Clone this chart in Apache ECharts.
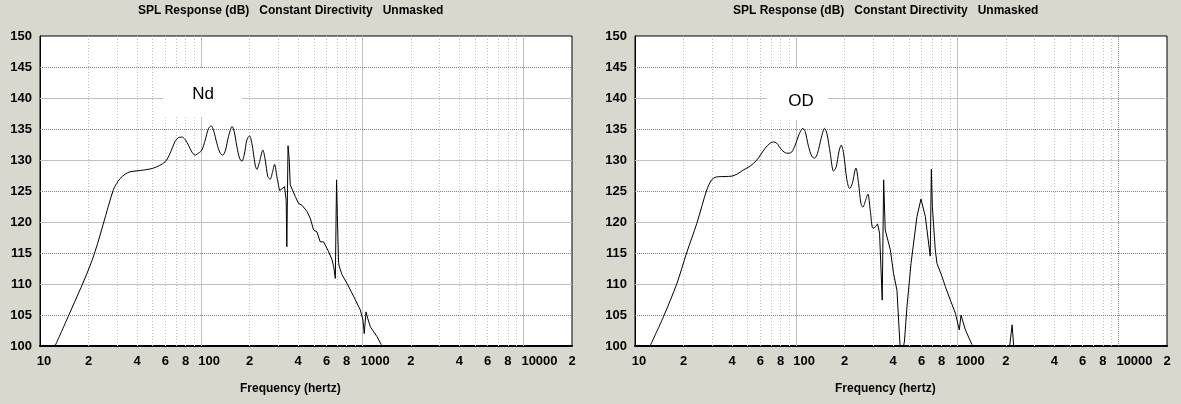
<!DOCTYPE html>
<html><head><meta charset="utf-8">
<script src="https://cdn.jsdelivr.net/npm/echarts@6/dist/echarts.min.js"></script>
<style>html,body{margin:0;padding:0;background:#d9d8cf}#c{width:1181px;height:404px}</style>
</head><body><div id="c"></div>
<script>
// ---- data ----
const ndFreq = [12.4,15.1,21.1,28.5,29.9,31.4,33.7,36.2,41.8,50.6,59.7,64.2,68.9,72.3,75.9,79.5,83.4,87.5,91.8,96.2,101.0,105.9,111.1,115.4,119.3,125.1,131.2,136.3,141.6,147.8,155.8,160.3,166.5,173.0,178.9,184.9,192.1,199.6,206.4,216.4,221.7,229.2,241.5,249.7,259.4,268.2,277.3,285.4,295.1,306.6,
  329,337,340,346,352,357,366,384,402,422,454,475,499,523,548,575,618,649,664,680,692,700,712,720,748,804,883,972,1009,1028,1054,1079,1121,1234,1312];
const ndDb   = [100,105,113.9,125.2,126.2,127.0,127.7,128.1,128.3,128.7,129.7,131.1,133.0,133.6,133.7,133.3,132.4,131.3,130.8,131.1,131.6,133.2,135.1,135.5,134.8,132.7,131.1,130.8,131.6,133.8,135.4,134.6,132.2,130.3,129.8,130.8,133.2,133.9,132.7,129.2,128.5,129.5,131.6,130.0,127.3,126.9,128.1,129.3,127.3,125.05,
  125.7,123.5,116.0,132.3,130.0,126.0,126.0,124.1,123.0,122.7,121.7,120.6,118.7,118.4,116.8,116.8,115.2,113.9,112.8,110.9,126.8,121.0,113.5,112.8,111.5,110.1,108.0,105.8,104.2,102.0,105.5,104.5,103.1,101.5,100.2];
const odFreq = [12.4,15.0,18.2,20.9,24.2,27.9,29.9,31.4,32.9,39.9,42.8,47.1,51.8,57.0,64.2,68.9,72.3,75.9,81.5,87.5,90.5,94.0,98.6,104.9,110.0,113.7,119.3,125.1,130.0,135.7,143.0,150.0,155.1,162.7,170.6,177.2,184.1,190.3,196.8,206.4,214.5,222.8,234.8,243.9,252.2,259.5,269.6,278.7,288.2,299.4,309.6,320.1,
  329.3,342,349,357,384,402,422,440,450,462,470,487,516,562,595,633,654,679,690,700,730,748,804,842,905,972,1029,1054,1122,1234,1700,2113,2187,2238];
const odDb   = [100,104.7,110.1,115.0,119.8,125.2,126.8,127.2,127.3,127.4,127.7,128.4,129.0,130.0,131.9,132.7,132.9,132.7,131.6,131.1,131.1,131.3,132.4,134.3,135.1,134.6,132.2,130.6,130.3,131.1,133.5,135.1,134.3,131.1,128.2,128.9,131.3,132.4,131.1,126.8,125.4,126.2,128.7,126.2,123.0,122.4,123.5,124.5,121.9,119.0,119.2,119.7,
  118.2,107.4,126.8,118.7,115.5,111.7,109.0,100.5,98,98,100.8,106.3,113.3,120.9,123.7,120.9,117.9,114.5,128.5,122.5,115.5,113.3,111.2,109.6,107.4,105.3,102.6,105.0,102.6,100.2,null,100,103.4,100];
const xTickValues = [10,20,40,60,80,100,200,400,600,800,1000,2000,4000,6000,8000,10000,20000];
const minorGridFreqs = [20,30,40,50,60,70,80,90,200,300,400,500,600,700,800,900,2000,3000,4000,5000,6000,7000,8000,9000];
const decadeFreqs = [100,1000,10000];
const yMajorGrid = [110,120,130,140];
const yMinorGrid = [105,115,125,135,145];
const panelLabels = ['Nd','OD'];
const chartTitle = 'SPL Response (dB)   Constant Directivity   Unmasked';
const xAxisName = 'Frequency (hertz)';

// ---- layout / style ----
const panels = [{left:40}, {left:635}];
const W = 532, H = 310, TOP = 36;
const SMOOTH_LIMIT = [306.6, 320.1]; // last frequency of the smoothly drawn part per panel
const FONT = '"Liberation Sans", Arial, sans-serif';

function xFmt(v){
  const e = Math.floor(Math.log10(v) + 1e-9);
  const m = Math.round(v / Math.pow(10, e));
  if (m === 1) return '{p' + e + '|' + Math.round(v) + '}';
  return String(m);
}
const richBase = {fontWeight:'bold', fontSize:13, fontFamily:FONT, color:'#000'};
const rich = {
  p1: Object.assign({padding:[0,0,0,8]}, richBase),
  p2: Object.assign({padding:[0,0,0,16]}, richBase),
  p3: Object.assign({padding:[0,0,0,26]}, richBase),
  p4: Object.assign({padding:[0,0,0,32]}, richBase)
};

const grids = [], xAxes = [], yAxes = [], series = [], graphics = [];
const dataSets = [[ndFreq, ndDb],[odFreq, odDb]];
const labelBoxes = [{x:163,y:68,w:79,h:49,cx:203,cy:94},{x:767,y:68,w:61,h:52,cx:801,cy:101}];

panels.forEach((p, i) => {
  grids.push({left:p.left, top:TOP, width:W, height:H, show:true, backgroundColor:'#fff', borderColor:'#000', borderWidth:1, containLabel:false});
  xAxes.push({
    type:'log', logBase:10, gridIndex:i, min:10, max:20000,
    axisLine:{show:true, onZero:false, lineStyle:{color:'#000', width:2}},
    axisTick:{show:false}, splitLine:{show:false}, minorSplitLine:{show:false},
    axisLabel:{customValues:xTickValues, formatter:xFmt, rich:rich, margin:9, color:'#000', fontWeight:'bold', fontSize:13, fontFamily:FONT, hideOverlap:false}
  });
  yAxes.push({
    type:'value', gridIndex:i, min:100, max:150, interval:5,
    axisLine:{show:true, lineStyle:{color:'#000', width:1}},
    axisTick:{show:false}, splitLine:{show:false},
    axisLabel:{margin:8, color:'#000', fontWeight:'bold', fontSize:13, fontFamily:FONT}
  });
  const ml = [];
  minorGridFreqs.forEach(f => ml.push({xAxis:f, lineStyle:{color:'#c0c0c0', type:[1,2], width:1}}));
  decadeFreqs.forEach(f => {
    if (i === 1 && f === 10000) ml.push({xAxis:f, lineStyle:{color:'#808080', type:[1,1], width:1}});
    else ml.push({xAxis:f, lineStyle:{color:'#c0c0c0', type:'solid', width:1}});
  });
  yMajorGrid.forEach(v => ml.push({yAxis:v, lineStyle:{color:'#c0c0c0', type:'solid', width:1}}));
  yMinorGrid.forEach(v => ml.push({yAxis:v, lineStyle:{color:'#808080', type:[1,1], width:1}}));
  series.push({
    type:'line', xAxisIndex:i, yAxisIndex:i, data:[], z:1, silent:true,
    markLine:{silent:true, symbol:['none','none'], label:{show:false}, animation:false, data:ml}
  });
  const [fr, db] = dataSets[i];
  const pts = fr.map((f, k) => [f, db[k]]);
  const smoothPts = pts.filter(d => d[0] <= SMOOTH_LIMIT[i]);
  const sharpPts = pts.filter(d => d[0] >= SMOOTH_LIMIT[i]);
  series.push({
    type:'line', xAxisIndex:i, yAxisIndex:i, z:5, data:smoothPts,
    showSymbol:false, symbol:'none', smooth:0.3, clip:true,
    lineStyle:{color:'#000', width:1}, animation:false
  });
  series.push({
    type:'line', xAxisIndex:i, yAxisIndex:i, z:5, data:sharpPts,
    showSymbol:false, symbol:'none', connectNulls:false, clip:true,
    lineStyle:{color:'#000', width:1}, animation:false
  });
  graphics.push({type:'text', left:p.left + W/2 - 16 - 152, top:5, z:100,
    style:{text:chartTitle, fill:'#000', font:'bold 12px ' + FONT}});
  graphics.push({type:'text', left:p.left + W/2 - 16 - 50, top:383, z:100,
    style:{text:xAxisName, fill:'#000', font:'bold 12px ' + FONT}});
  const b = labelBoxes[i];
  graphics.push({type:'rect', shape:{x:b.x, y:b.y, width:b.w, height:b.h}, z:100, style:{fill:'#fff'}});
  graphics.push({type:'text', x:b.cx, y:b.cy, z:101,
    style:{text:panelLabels[i], fill:'#000', font:'17px ' + FONT, textAlign:'center', textVerticalAlign:'middle'}});
});

const chart = echarts.init(document.getElementById('c'), null, {renderer:'canvas'});
chart.setOption({
  backgroundColor:'#d9d8cf',
  animation:false,
  grid:grids, xAxis:xAxes, yAxis:yAxes, series:series, graphic:graphics
});
</script>
</body></html>
